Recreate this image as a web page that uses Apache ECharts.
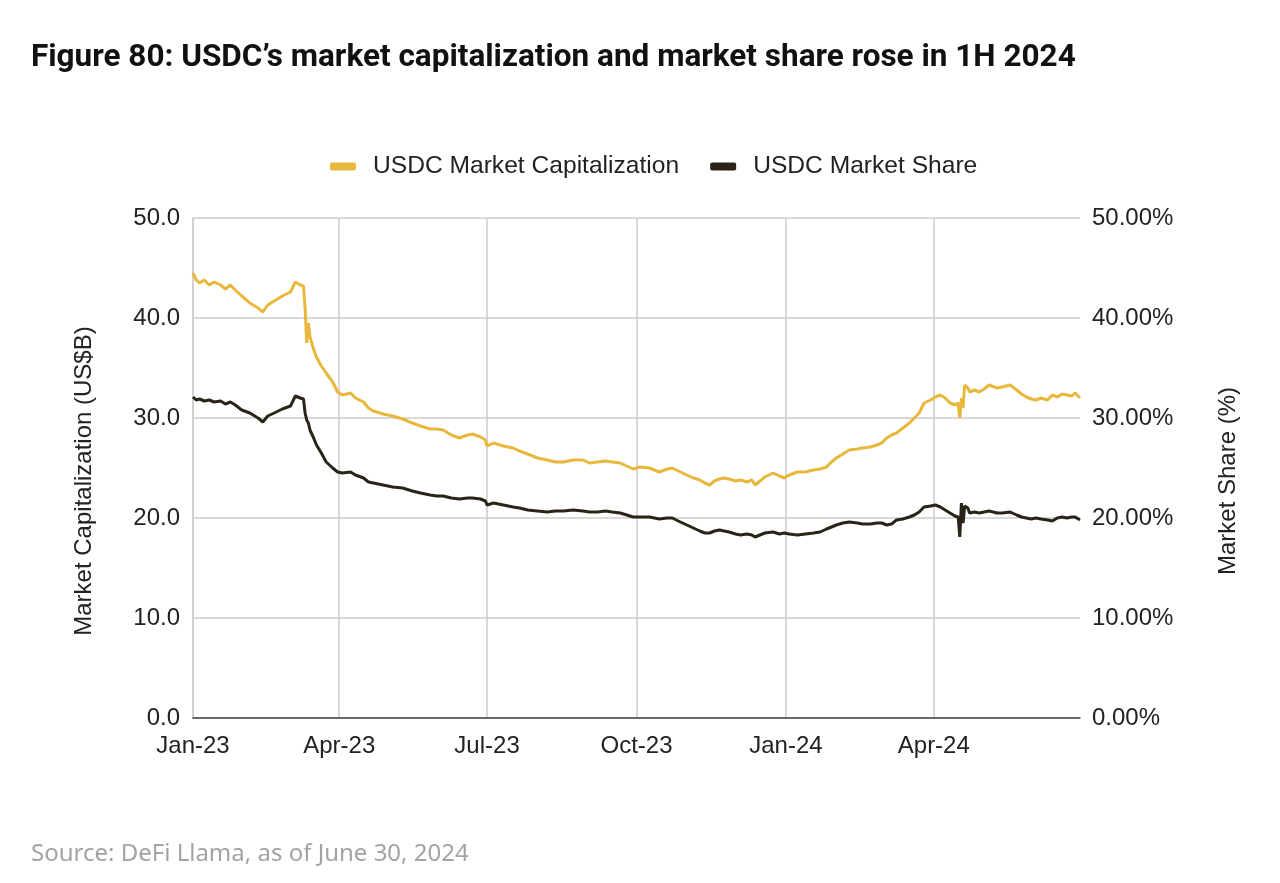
<!DOCTYPE html>
<html>
<head>
<meta charset="utf-8">
<script src="https://cdn.jsdelivr.net/npm/echarts@6/dist/echarts.min.js"></script>
<style>
html,body{margin:0;padding:0;background:#fff;}
#c{width:1280px;height:883px;}
</style>
</head>
<body>
<div id="c"></div>
<script>
const dates = ['2023-01-01','2023-01-03','2023-01-05','2023-01-08','2023-01-11','2023-01-14','2023-01-18','2023-01-21','2023-01-24','2023-01-27','2023-01-31','2023-02-05','2023-02-10','2023-02-13','2023-02-16','2023-02-20','2023-02-25','2023-03-02','2023-03-05','2023-03-08','2023-03-10','2023-03-11','2023-03-12','2023-03-13','2023-03-14','2023-03-16','2023-03-18','2023-03-21','2023-03-24','2023-03-28','2023-03-31','2023-04-03','2023-04-08','2023-04-11','2023-04-16','2023-04-19','2023-04-22','2023-04-28','2023-05-04','2023-05-10','2023-05-16','2023-05-21','2023-05-27','2023-05-31','2023-06-04','2023-06-09','2023-06-14','2023-06-19','2023-06-22','2023-06-27','2023-06-30','2023-07-01','2023-07-05','2023-07-11','2023-07-17','2023-07-21','2023-07-26','2023-08-01','2023-08-07','2023-08-12','2023-08-17','2023-08-23','2023-08-29','2023-09-02','2023-09-07','2023-09-12','2023-09-16','2023-09-21','2023-09-25','2023-09-29','2023-10-03','2023-10-09','2023-10-15','2023-10-20','2023-10-23','2023-10-28','2023-11-01','2023-11-05','2023-11-09','2023-11-12','2023-11-15','2023-11-18','2023-11-21','2023-11-24','2023-11-27','2023-12-01','2023-12-04','2023-12-08','2023-12-11','2023-12-13','2023-12-16','2023-12-19','2023-12-24','2023-12-28','2023-12-31','2024-01-03','2024-01-08','2024-01-13','2024-01-18','2024-01-22','2024-01-26','2024-01-29','2024-02-01','2024-02-05','2024-02-09','2024-02-14','2024-02-17','2024-02-22','2024-02-26','2024-02-29','2024-03-03','2024-03-06','2024-03-09','2024-03-13','2024-03-17','2024-03-20','2024-03-23','2024-03-26','2024-03-30','2024-04-02','2024-04-05','2024-04-08','2024-04-11','2024-04-14','2024-04-16','2024-04-17','2024-04-18','2024-04-19','2024-04-20','2024-04-22','2024-04-23','2024-04-26','2024-04-29','2024-05-02','2024-05-05','2024-05-10','2024-05-13','2024-05-18','2024-05-22','2024-05-25','2024-05-28','2024-05-31','2024-06-03','2024-06-06','2024-06-10','2024-06-13','2024-06-16','2024-06-19','2024-06-22','2024-06-25','2024-06-27','2024-06-30'];

const marketCap = [44.5,43.8,43.5,43.8,43.3,43.6,43.3,42.9,43.3,42.8,42.2,41.5,41.0,40.6,41.3,41.7,42.2,42.6,43.6,43.3,43.2,41.0,37.5,39.5,38.1,37.0,36.1,35.2,34.5,33.6,32.6,32.3,32.5,32.0,31.6,31.0,30.7,30.4,30.2,29.9,29.5,29.2,28.9,28.9,28.8,28.3,28.0,28.3,28.4,28.1,27.8,27.2,27.5,27.2,27.0,26.7,26.4,26.0,25.8,25.6,25.6,25.8,25.8,25.5,25.6,25.7,25.6,25.5,25.2,24.9,25.1,25.0,24.6,24.9,25.0,24.6,24.3,24.0,23.8,23.5,23.3,23.7,23.9,24.0,23.9,23.7,23.8,23.6,23.8,23.3,23.7,24.1,24.5,24.2,24.0,24.3,24.6,24.6,24.8,24.9,25.1,25.6,26.0,26.4,26.8,26.9,27.0,27.1,27.3,27.5,28.0,28.3,28.5,29.0,29.5,30.0,30.5,31.5,31.8,32.1,32.3,32.0,31.5,31.3,31.5,30.0,32.0,31.0,33.3,33.0,32.6,32.8,32.6,32.9,33.3,33.0,33.1,33.3,32.8,32.4,32.1,31.9,31.8,32.0,31.8,32.3,32.1,32.4,32.3,32.2,32.5,32.0];

const marketShare = [32.1,31.8,31.9,31.7,31.8,31.6,31.7,31.4,31.6,31.3,30.8,30.5,30.0,29.6,30.2,30.5,30.9,31.2,32.2,32.0,31.9,30.5,29.8,29.5,28.8,28.1,27.3,26.5,25.6,25.0,24.6,24.5,24.6,24.3,24.0,23.6,23.5,23.3,23.1,23.0,22.7,22.5,22.3,22.2,22.2,22.0,21.9,22.0,22.0,21.9,21.7,21.3,21.5,21.3,21.1,21.0,20.8,20.7,20.6,20.7,20.7,20.8,20.7,20.6,20.6,20.7,20.6,20.5,20.3,20.1,20.1,20.1,19.9,20.0,20.0,19.6,19.3,19.0,18.7,18.5,18.5,18.7,18.8,18.7,18.6,18.4,18.3,18.4,18.3,18.1,18.3,18.5,18.6,18.4,18.5,18.4,18.3,18.4,18.5,18.6,18.9,19.1,19.3,19.5,19.6,19.5,19.4,19.4,19.5,19.5,19.3,19.4,19.8,19.9,20.1,20.3,20.6,21.1,21.2,21.3,21.1,20.8,20.5,20.2,20.1,18.1,21.5,19.5,21.2,21.0,20.5,20.6,20.5,20.6,20.7,20.5,20.5,20.6,20.3,20.1,20.0,19.9,20.0,19.9,19.8,19.7,20.0,20.1,20.0,20.1,20.1,19.8];

const quarterTicks = ['2023-01-01','2023-04-01','2023-07-01','2023-10-01','2024-01-01','2024-04-01'];
const monthNames = ['Jan','Feb','Mar','Apr','May','Jun','Jul','Aug','Sep','Oct','Nov','Dec'];

function ts(s){ const p=s.split('-'); return Date.UTC(+p[0], +p[1]-1, +p[2]); }
const tickVals = quarterTicks.map(ts);

const chart = echarts.init(document.getElementById('c'));
chart.setOption({
  backgroundColor:'#fff',
  animation:false,
  title:[{
    text:'Figure 80: USDC’s market capitalization and market share rose in 1H 2024',
    left:26, top:37,
    textStyle:{fontFamily:'Roboto',fontWeight:'bold',fontSize:31.5,color:'#111'}
  },{
    text:'Source: DeFi Llama, as of June 30, 2024',
    left:26, top:837,
    textStyle:{fontFamily:'Noto Sans',fontWeight:'normal',fontSize:24,color:'#a3a3a3'}
  }],
  legend:{
    top:149, left:325,
    icon:'roundRect', itemWidth:26, itemHeight:8, itemGap:31,
    textStyle:{fontFamily:'Liberation Sans',fontSize:24.6,color:'#222',padding:[0,0,0,12]},
    data:['USDC Market Capitalization','USDC Market Share']
  },
  grid:{left:193, right:200, top:218, bottom:165, containLabel:false},
  xAxis:{
    type:'value',
    min:ts('2023-01-01'), max:ts('2024-06-30'),
    axisLine:{show:true,lineStyle:{color:'#444',width:1.5}},
    axisTick:{show:false, customValues:tickVals},
    axisLabel:{
      customValues:tickVals,
      fontFamily:'Liberation Sans',fontSize:24,color:'#222',margin:16,
      formatter:function(v){ const d=new Date(v); return monthNames[d.getUTCMonth()]+'-'+String(d.getUTCFullYear()).slice(2); }
    },
    splitLine:{show:true,lineStyle:{color:'#cccccc',width:1.5}}
  },
  yAxis:[{
    type:'value', min:0, max:50, interval:10,
    name:'Market Capitalization (US$B)', nameLocation:'middle', nameGap:97, nameRotate:90,
    nameTextStyle:{fontFamily:'Liberation Sans',fontSize:24,color:'#222',padding:[0,26,0,0]},
    axisLine:{show:true,lineStyle:{color:'#cccccc',width:1.5}},
    axisTick:{show:false},
    axisLabel:{fontFamily:'Liberation Sans',fontSize:24,color:'#222',margin:13,
      formatter:function(v){return v.toFixed(1);}},
    splitLine:{show:true,lineStyle:{color:'#cccccc',width:1.5}}
  },{
    type:'value', min:0, max:50, interval:10,
    name:'Market Share (%)', nameLocation:'middle', nameGap:136, nameRotate:90,
    nameTextStyle:{fontFamily:'Liberation Sans',fontSize:24,color:'#222',padding:[0,26,0,0]},
    axisLine:{show:false}, axisTick:{show:false},
    axisLabel:{fontFamily:'Liberation Sans',fontSize:24,color:'#222',margin:12,
      formatter:function(v){return v.toFixed(2)+'%';}},
    splitLine:{show:false}
  }],
  series:[{
    name:'USDC Market Capitalization', type:'line', yAxisIndex:0,
    data:dates.map((d,i)=>[ts(d),marketCap[i]]),
    showSymbol:false, symbol:'none',
    lineStyle:{color:'#E8B83D',width:3},
    itemStyle:{color:'#E8B83D'}
  },{
    name:'USDC Market Share', type:'line', yAxisIndex:1,
    data:dates.map((d,i)=>[ts(d),marketShare[i]]),
    showSymbol:false, symbol:'none',
    lineStyle:{color:'#2A2417',width:3},
    itemStyle:{color:'#2A2417'}
  }]
});
</script>
</body>
</html>
